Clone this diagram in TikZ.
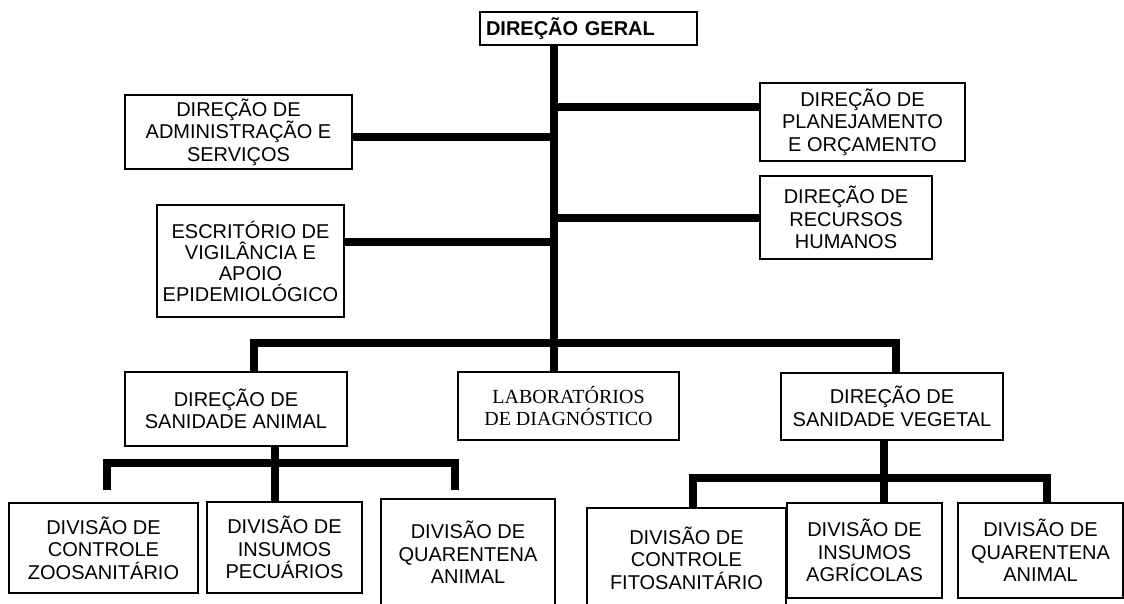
\documentclass[tikz,border=0pt]{standalone}
\usepackage{fontspec}
\setmainfont{Liberation Sans}
\newfontfamily\fonteserifa{Liberation Serif}
\begin{document}
\begin{tikzpicture}[x=1pt,y=-1pt,
	caixa/.style={draw, line width=2.8pt, align=center, inner sep=0pt, font=\fontsize{20}{22.5}\selectfont},
	ligacao/.style={line width=7.5pt, line join=miter}]
		\useasboundingbox (0,0) rectangle (1124,604);
		%Direcao geral
		\coordinate (centroGeral) at (588.5,28.5);
		\node [caixa, minimum width=217, minimum height=33, text width=205, align=left, font=\fontsize{20}{22.5}\selectfont\bfseries] (geral) at (centroGeral) {DIREÇÃO GERAL};
		%Caixas ligadas ao tronco
		\coordinate (centroAdm) at (238.5,132);
		\coordinate (centroPlan) at (862.5,122);
		\coordinate (centroRh) at (846,217.5);
		\coordinate (centroEsc) at (250.5,261);
		\node [caixa, minimum width=227, minimum height=74] (adm) at (centroAdm) {DIREÇÃO DE\\ADMINISTRAÇÃO E\\SERVIÇOS};
		\node [caixa, minimum width=205, minimum height=78] (plan) at (centroPlan) {DIREÇÃO DE\\PLANEJAMENTO\\E ORÇAMENTO};
		\node [caixa, minimum width=172, minimum height=83] (rh) at (centroRh) {DIREÇÃO DE\\RECURSOS\\HUMANOS};
		\node [caixa, minimum width=187, minimum height=112, font=\fontsize{20}{21}\selectfont] (esc) at (centroEsc) {ESCRITÓRIO DE\\VIGILÂNCIA E\\APOIO\\EPIDEMIOLÓGICO};
		%Tronco e ramos laterais
		\coordinate (tronco) at (554,343);
		\coordinate (jPlan) at (554,107);
		\coordinate (jAdm) at (554,137);
		\coordinate (jRh) at (554,218);
		\coordinate (jEsc) at (554,242);
		\draw [ligacao] (geral.south -| tronco) -- (tronco);
		\draw [ligacao] (jPlan) -- (jPlan -| plan.west);
		\draw [ligacao] (jAdm -| adm.east) -- (jAdm);
		\draw [ligacao] (jRh) -- (jRh -| rh.west);
		\draw [ligacao] (jEsc -| esc.east) -- (jEsc);
		%Direcoes de sanidade e laboratorios
		\coordinate (centroAni) at (236,409);
		\coordinate (centroLab) at (568.5,406);
		\coordinate (centroVeg) at (892,406.5);
		\node [caixa, minimum width=222, minimum height=74] (ani) at (centroAni) {DIREÇÃO DE\\SANIDADE ANIMAL};
		\node [caixa, minimum width=221, minimum height=68, font=\fontsize{20}{22}\selectfont\fonteserifa] (lab) at (centroLab) {LABORATÓRIOS\\DE DIAGNÓSTICO};
		\node [caixa, minimum width=222, minimum height=67] (veg) at (centroVeg) {DIREÇÃO DE\\SANIDADE VEGETAL};
		\coordinate (barraE) at (254,343);
		\coordinate (barraD) at (896,343);
		\draw [ligacao] (ani.north -| barraE) -- (barraE) -- (barraD) -- (veg.north -| barraD);
		\draw [ligacao] (tronco) -- (lab.north -| tronco);
		%Divisoes de sanidade animal
		\coordinate (centroZoo) at (103.5,548);
		\coordinate (centroPec) at (284.5,547.5);
		\coordinate (centroQua1) at (468,552.5);
		\node [caixa, minimum width=189, minimum height=90] (zoo) at (centroZoo) {DIVISÃO DE\\CONTROLE\\ZOOSANITÁRIO};
		\node [caixa, minimum width=155, minimum height=91] (pec) at (centroPec) {DIVISÃO DE\\INSUMOS\\PECUÁRIOS};
		\node [caixa, minimum width=174, minimum height=107] (qua1) at (centroQua1) {DIVISÃO DE\\QUARENTENA\\ANIMAL};
		\coordinate (sub1) at (275,463);
		\coordinate (sub1E) at (107,463);
		\coordinate (sub1D) at (455,463);
		\coordinate (fim1E) at (107,490);
		\coordinate (fim1D) at (455,490);
		\draw [ligacao] (ani.south -| sub1) -- (pec.north -| sub1);
		\draw [ligacao] (fim1E) -- (sub1E) -- (sub1D) -- (fim1D);
		%Divisoes de sanidade vegetal
		\coordinate (centroFito) at (686.5,558);
		\coordinate (centroAgr) at (864.5,550.5);
		\coordinate (centroQua2) at (1040.5,550.5);
		\node [caixa, minimum width=199, minimum height=100] (fito) at (centroFito) {DIVISÃO DE\\CONTROLE\\FITOSANITÁRIO};
		\node [caixa, minimum width=155, minimum height=95] (agr) at (centroAgr) {DIVISÃO DE\\INSUMOS\\AGRÍCOLAS};
		\node [caixa, minimum width=165, minimum height=95] (qua2) at (centroQua2) {DIVISÃO DE\\QUARENTENA\\ANIMAL};
		\coordinate (sub2) at (884,478);
		\coordinate (sub2E) at (693,478);
		\coordinate (sub2D) at (1047,478);
		\draw [ligacao] (veg.south -| sub2) -- (agr.north -| sub2);
		\draw [ligacao] (fito.north -| sub2E) -- (sub2E) -- (sub2D) -- (qua2.north -| sub2D);
\end{tikzpicture}
\end{document}
